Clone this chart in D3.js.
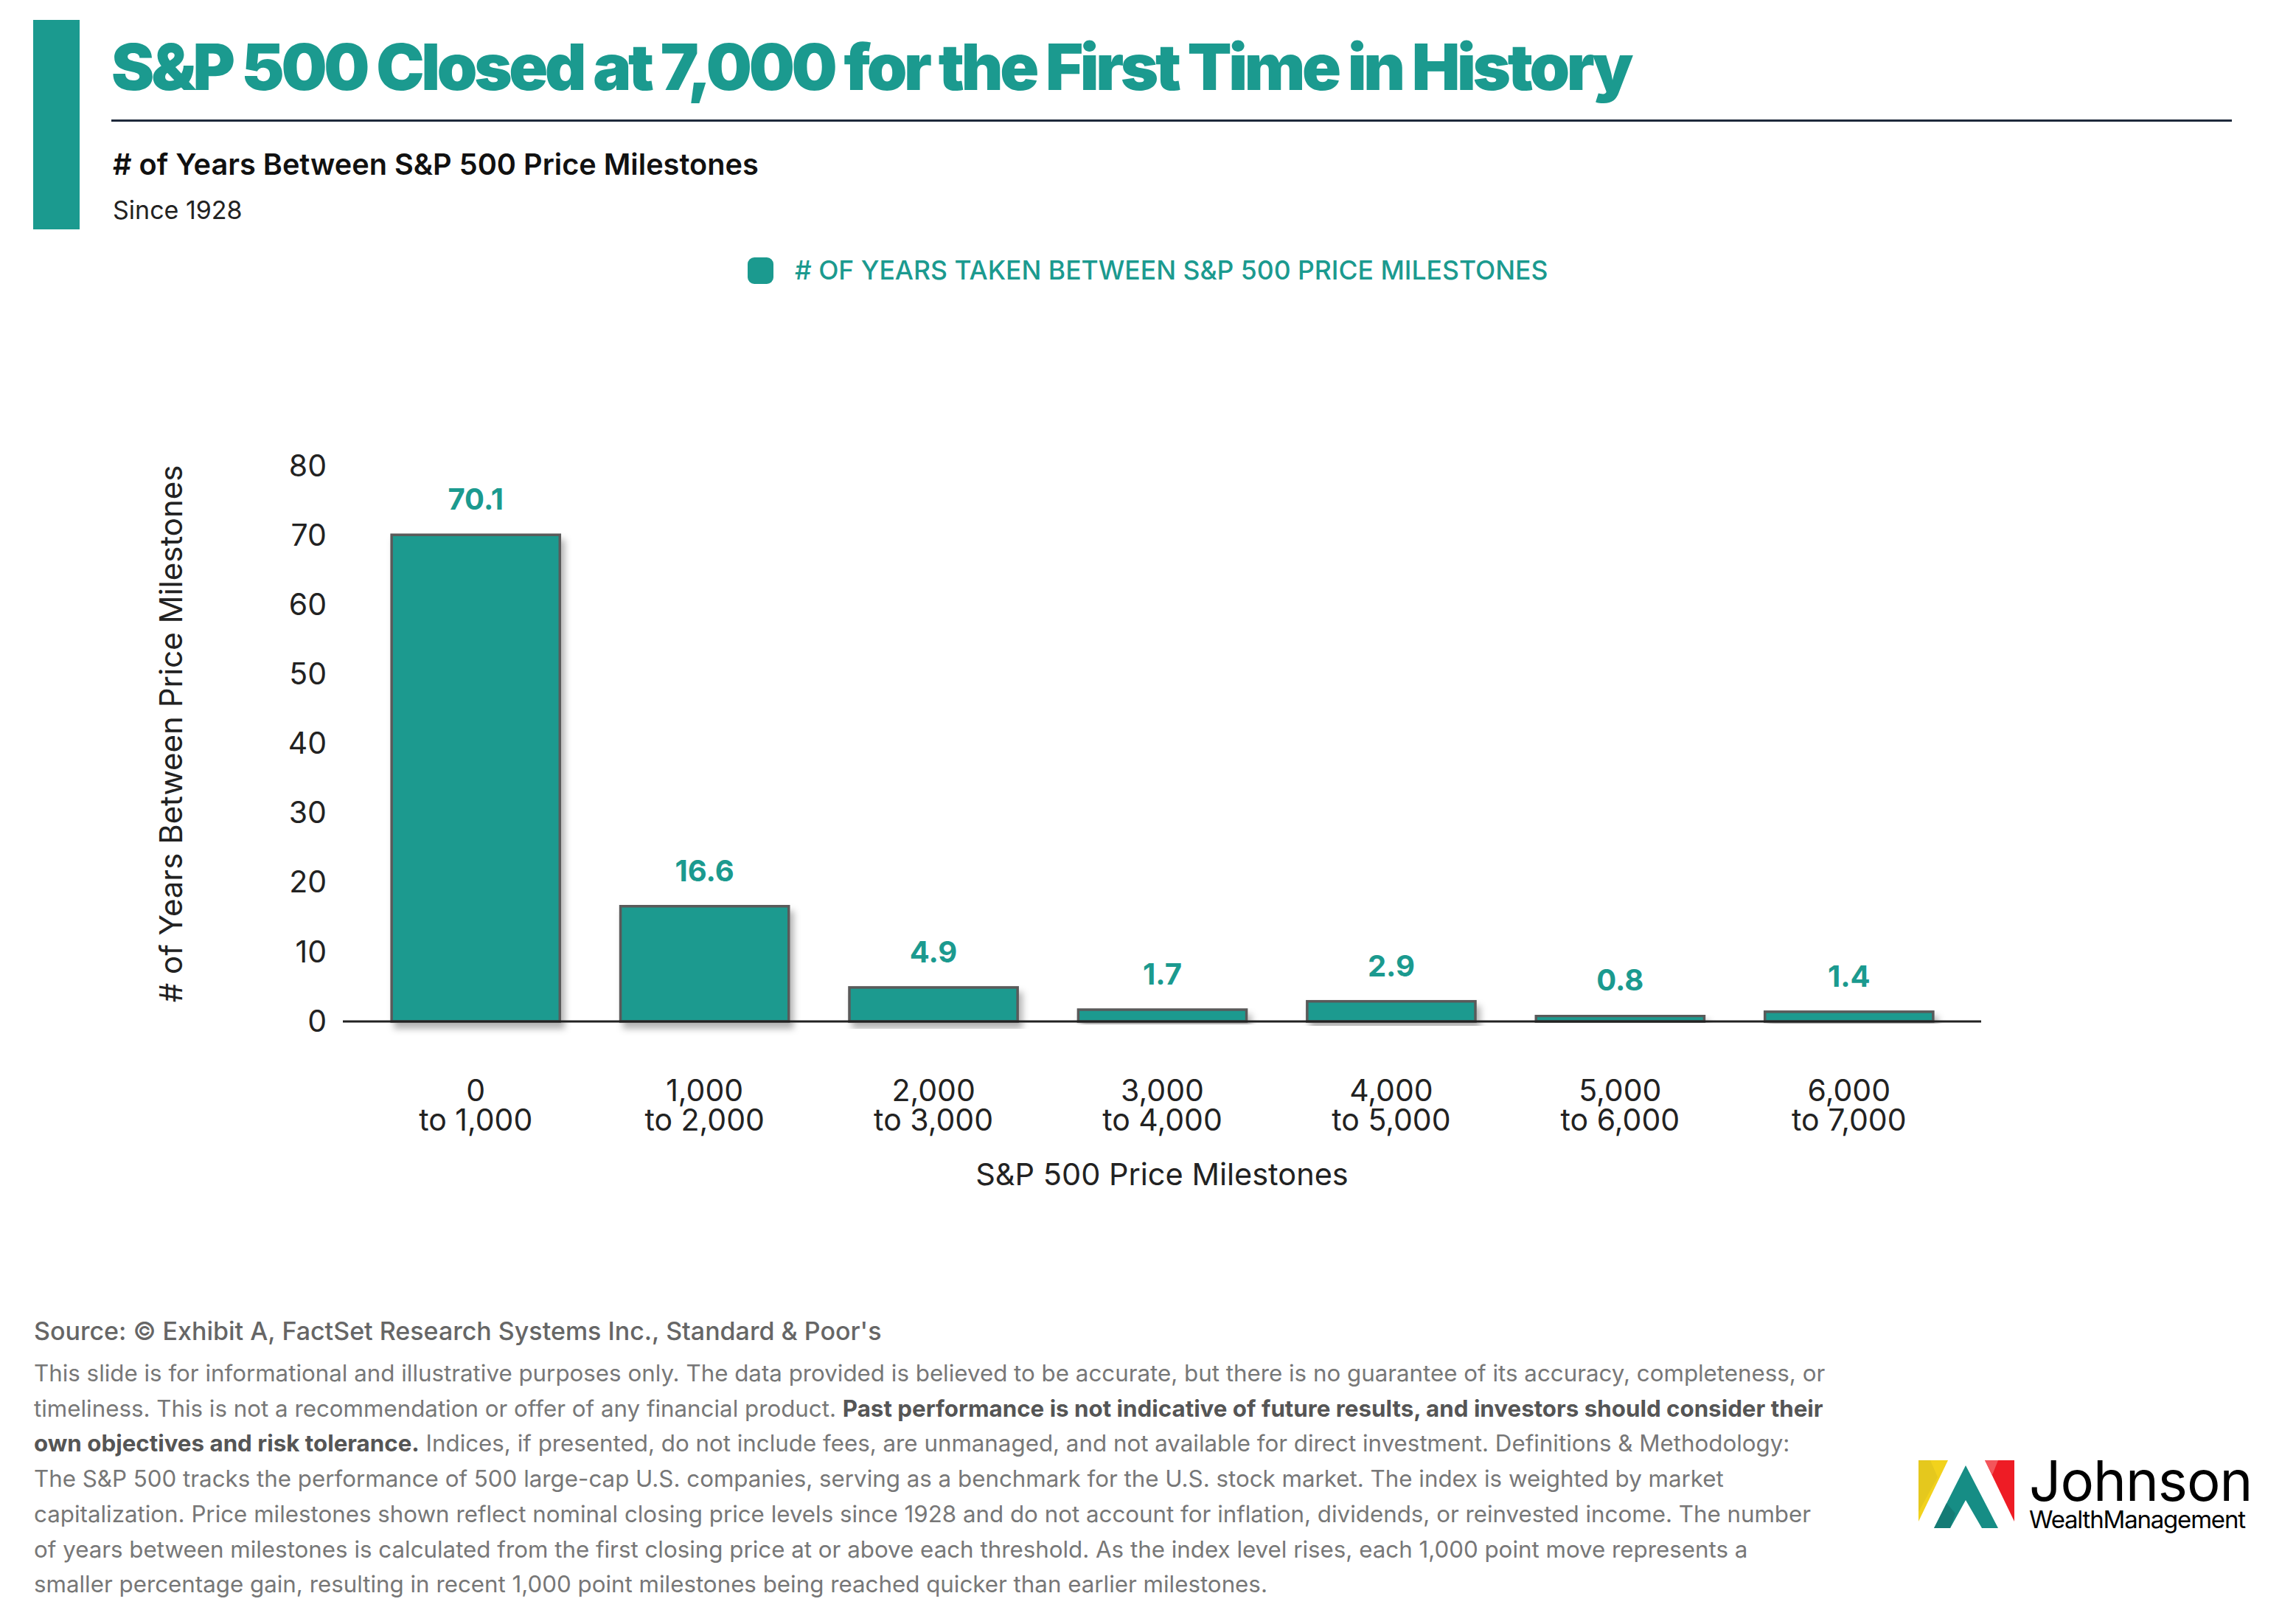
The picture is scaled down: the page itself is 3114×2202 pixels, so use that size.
<!DOCTYPE html>
<html>
<head>
<meta charset="utf-8">
<script src="https://cdn.jsdelivr.net/npm/d3@7"></script>
<style>
  body { margin: 0; background: #fff; }
  text { font-family: Inter, "Noto Sans", sans-serif; }
</style>
</head>
<body>
<div id="chart"></div>
<script>
// data
const milestoneFrom = ["0", "1,000", "2,000", "3,000", "4,000", "5,000", "6,000"];
const milestoneTo = ["to 1,000", "to 2,000", "to 3,000", "to 4,000", "to 5,000", "to 6,000", "to 7,000"];
const years = [70.1, 16.6, 4.9, 1.7, 2.9, 0.8, 1.4];
const yTicks = [0, 10, 20, 30, 40, 50, 60, 70, 80];

const teal = "#1b9a8f";
const W = 3114, H = 2202;

const svg = d3.select("#chart").append("svg")
    .attr("width", W)
    .attr("height", H);

const defs = svg.append("defs");
const f = defs.append("filter").attr("id", "shadow")
    .attr("x", "-10%").attr("y", "-10%").attr("width", "130%").attr("height", "130%");
f.append("feDropShadow")
    .attr("dx", 5).attr("dy", 8).attr("stdDeviation", 5)
    .attr("flood-color", "#000").attr("flood-opacity", 0.3);

//header
svg.append("rect").attr("x", 45).attr("y", 27).attr("width", 63).attr("height", 284).attr("fill", teal);

svg.append("text")
    .attr("x", 151).attr("y", 122)
    .attr("font-size", 86).attr("font-weight", 900)
    .attr("letter-spacing", "-0.05em")
    .attr("fill", teal)
    .attr("textLength", 2060).attr("lengthAdjust", "spacingAndGlyphs")
    .text("S&P 500 Closed at 7,000 for the First Time in History");

svg.append("rect").attr("x", 151).attr("y", 162).attr("width", 2876).attr("height", 3).attr("fill", "#1e293b");

svg.append("text")
    .attr("x", 153).attr("y", 237)
    .attr("font-size", 39.7).attr("font-weight", 600).attr("fill", "#111")
    .text("# of Years Between S&P 500 Price Milestones");

svg.append("text")
    .attr("x", 153).attr("y", 297)
    .attr("font-size", 34).attr("fill", "#222")
    .text("Since 1928");

//legend
const legend = svg.append("g");
legend.append("rect").attr("x", 1014).attr("y", 349).attr("width", 35).attr("height", 36)
    .attr("rx", 9).attr("fill", teal);
legend.append("text").attr("x", 1078).attr("y", 379)
    .attr("font-size", 35.5).attr("font-weight", 500).attr("fill", teal)
    .text("# OF YEARS TAKEN BETWEEN S&P 500 PRICE MILESTONES");

//scales
const x = d3.scaleBand()
    .domain(milestoneFrom)
    .range([490, 2663])
    .paddingInner(0.265)
    .paddingOuter(0.1325);

const y = d3.scaleLinear()
    .domain([0, 80])
    .range([1385, 632]);

//y axis
const yAxis = svg.append("g")
    .attr("transform", "translate(458,0)")
    .call(d3.axisLeft(y).tickValues(yTicks).tickSize(0).tickPadding(15));
yAxis.select(".domain").remove();
yAxis.selectAll("text")
    .attr("font-family", "Inter, sans-serif")
    .attr("font-size", 41).attr("fill", "#222");

svg.append("text")
    .attr("transform", "translate(247,995) rotate(-90)")
    .attr("text-anchor", "middle")
    .attr("font-size", 42).attr("fill", "#222")
    .text("# of Years Between Price Milestones");

//bars
svg.selectAll(".bar")
    .data(years)
    .enter().append("rect")
    .attr("class", "bar")
    .attr("x", (d, i) => x(milestoneFrom[i]))
    .attr("y", d => y(d))
    .attr("width", x.bandwidth())
    .attr("height", d => y(0) - y(d))
    .attr("fill", teal)
    .attr("stroke", "#5a5a5a")
    .attr("stroke-width", 3.5)
    .attr("filter", "url(#shadow)");

//value labels
svg.selectAll(".val")
    .data(years)
    .enter().append("text")
    .attr("class", "val")
    .attr("x", (d, i) => x(milestoneFrom[i]) + x.bandwidth() / 2)
    .attr("y", d => y(d) - 34)
    .attr("text-anchor", "middle")
    .attr("font-size", 40).attr("font-weight", 700).attr("fill", teal)
    .text(d => d.toFixed(1));

//baseline
svg.append("line")
    .attr("x1", 465).attr("x2", 2687)
    .attr("y1", y(0)).attr("y2", y(0))
    .attr("stroke", "#222").attr("stroke-width", 3);

//x axis
const xAxis = svg.append("g")
    .attr("transform", `translate(0,${y(0)})`)
    .call(d3.axisBottom(x).tickSize(0).tickPadding(0).tickFormat(""));
xAxis.select(".domain").remove();
xAxis.selectAll(".tick").each(function(d, i) {
    const g = d3.select(this);
    g.append("text")
        .attr("text-anchor", "middle").attr("y", 108)
        .attr("font-family", "Inter, sans-serif")
        .attr("font-size", 41).attr("fill", "#222")
        .text(milestoneFrom[i]);
    g.append("text")
        .attr("text-anchor", "middle").attr("y", 148)
        .attr("font-family", "Inter, sans-serif")
        .attr("font-size", 41).attr("fill", "#222")
        .text(milestoneTo[i]);
});

svg.append("text")
    .attr("x", 1576).attr("y", 1607)
    .attr("text-anchor", "middle")
    .attr("font-size", 41.5).attr("fill", "#222")
    .text("S&P 500 Price Milestones");

//footer
svg.append("text")
    .attr("x", 46).attr("y", 1817)
    .attr("font-size", 34).attr("font-weight", 500).attr("fill", "#666")
    .text("Source: © Exhibit A, FactSet Research Systems Inc., Standard & Poor's");

const notes = [
    [["This slide is for informational and illustrative purposes only. The data provided is believed to be accurate, but there is no guarantee of its accuracy, completeness, or", 0]],
    [["timeliness. This is not a recommendation or offer of any financial product. ", 0], ["Past performance is not indicative of future results, and investors should consider their", 1]],
    [["own objectives and risk tolerance.", 1], [" Indices, if presented, do not include fees, are unmanaged, and not available for direct investment. Definitions & Methodology:", 0]],
    [["The S&P 500 tracks the performance of 500 large-cap U.S. companies, serving as a benchmark for the U.S. stock market. The index is weighted by market", 0]],
    [["capitalization. Price milestones shown reflect nominal closing price levels since 1928 and do not account for inflation, dividends, or reinvested income. The number", 0]],
    [["of years between milestones is calculated from the first closing price at or above each threshold. As the index level rises, each 1,000 point move represents a", 0]],
    [["smaller percentage gain, resulting in recent 1,000 point milestones being reached quicker than earlier milestones.", 0]]
];
notes.forEach((line, i) => {
    const t = svg.append("text")
        .attr("x", 46).attr("y", 1873 + i * 47.7)
        .attr("font-size", 31.3).attr("fill", "#777");
    line.forEach(seg => {
        t.append("tspan")
            .attr("font-weight", seg[1] ? 700 : 400)
            .attr("fill", seg[1] ? "#555" : "#777")
            .text(seg[0]);
    });
});

//logo
const logo = svg.append("g").attr("transform", "translate(-12,0)");
logo.append("polygon").attr("points", "2614,1980 2654,1980 2614,2063").attr("fill", "#f2d21c");
logo.append("polygon").attr("points", "2614,1980 2630,1980 2640,2003 2614,2050").attr("fill", "#dcc21e").attr("opacity", 0.6);
logo.append("polygon").attr("points", "2678,1987 2722,2072 2700,2072 2678,2034 2657,2072 2635,2072").attr("fill", "#168d85");
logo.append("polygon").attr("points", "2657,2072 2635,2072 2652,2038 2664,2052").attr("fill", "#146f6a").attr("opacity", 0.6);
logo.append("polygon").attr("points", "2704,1980 2744,1980 2744,2063").attr("fill", "#ee1c25");
logo.append("polygon").attr("points", "2704,1980 2722,1980 2714,2000").attr("fill", "#f56d72").attr("opacity", 0.7);
logo.append("text").attr("x", 2764).attr("y", 2035)
    .attr("font-family", "'Open Sans', sans-serif")
    .attr("font-size", 76).attr("fill", "#000").attr("letter-spacing", "-1")
    .text("Johnson");
logo.append("text").attr("x", 2764).attr("y", 2072)
    .attr("font-family", "'Open Sans', sans-serif")
    .attr("font-size", 33).attr("fill", "#000").attr("letter-spacing", "-1.2")
    .text("WealthManagement");
</script>
</body>
</html>
